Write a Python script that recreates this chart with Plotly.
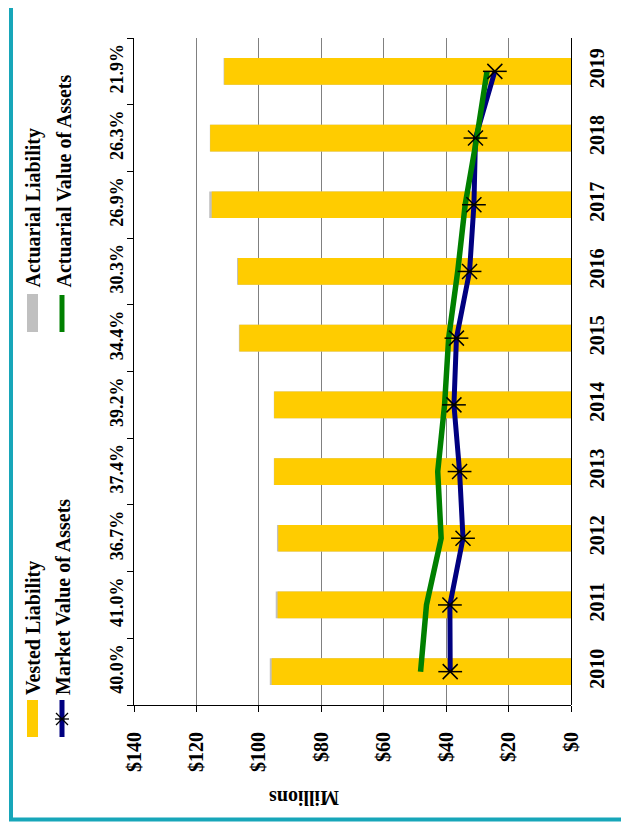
import plotly.graph_objects as go

# ---------------- data ----------------
years = ["2010", "2011", "2012", "2013", "2014", "2015", "2016", "2017", "2018", "2019"]
funded_pct = ["40.0%", "41.0%", "36.7%", "37.4%", "39.2%", "34.4%", "30.3%", "26.9%", "26.3%", "21.9%"]
actuarial_liability = [96.5, 94.6, 94.2, 95.2, 95.2, 106.4, 107.0, 115.9, 115.7, 111.3]
vested_liability = [95.9, 94.0, 93.8, 95.1, 95.1, 106.2, 106.7, 115.1, 115.6, 111.1]
market_value = [38.7, 38.8, 34.6, 35.7, 37.5, 36.7, 32.5, 31.1, 30.6, 24.4]
actuarial_value = [48.2, 46.3, 41.6, 42.7, 40.5, 39.2, 36.3, 33.9, 30.2, 26.9]
x_ticks = [0, 20, 40, 60, 80, 100, 120, 140]
x_tick_text = ["$0", "$20", "$40", "$60", "$80", "$100", "$120", "$140"]

# ---------------- styling ----------------
FONT = "Liberation Serif"
OFF = 8  # page body margin
W, H = 629 - OFF, 826 - OFF
# plot area in screen pixels: x 134..571, y 38..705
ML, MR, MT, MB = 134 - OFF, 629 - 571, 38 - OFF, 826 - 705
PW, PH = W - ML - MR, H - MT - MB

def px(x):
    return (x - OFF - ML) / PW

def py(y):
    return (H - MB - (y - OFF)) / PH

fig = go.Figure()

fig.add_trace(go.Bar(
    x=actuarial_liability, y=years, orientation="h", name="Actuarial Liability",
    marker=dict(color="#C0C0C0", line=dict(width=0)), width=0.4, showlegend=False))
fig.add_trace(go.Bar(
    x=vested_liability, y=years, orientation="h", name="Vested Liability",
    marker=dict(color="#FFCC00", line=dict(width=0)), width=0.4, showlegend=False))
fig.add_trace(go.Scatter(
    x=market_value, y=years, mode="lines", name="Market Value of Assets",
    line=dict(color="#000080", width=5), showlegend=False))
fig.add_trace(go.Scatter(
    x=actuarial_value, y=years, mode="lines", name="Actuarial Value of Assets",
    line=dict(color="#008000", width=5.5), showlegend=False))
fig.add_trace(go.Scatter(
    x=market_value, y=years, mode="markers", showlegend=False, hoverinfo="skip",
    marker=dict(symbol="x-thin-open", size=15, color="black", line=dict(color="black", width=1.5))))
fig.add_trace(go.Scatter(
    x=market_value, y=years, mode="markers", showlegend=False, hoverinfo="skip",
    marker=dict(symbol="line-ew-open", size=17, color="black", line=dict(color="black", width=1.5))))
# invisible trace that carries the year labels on the right-hand axis
fig.add_trace(go.Scatter(
    x=[None] * len(years), y=list(range(len(years))), yaxis="y2", mode="markers",
    showlegend=False, hoverinfo="skip", marker=dict(opacity=0)))

shapes = []
annotations = []

# legend swatches
shapes.append(dict(type="rect", xref="paper", yref="paper", x0=px(27), x1=px(38), y0=py(737), y1=py(700),
                   fillcolor="#FFCC00", line=dict(width=0)))
shapes.append(dict(type="rect", xref="paper", yref="paper", x0=px(27), x1=px(38), y0=py(332), y1=py(294),
                   fillcolor="#C0C0C0", line=dict(width=0)))
shapes.append(dict(type="line", xref="paper", yref="paper", x0=px(62), x1=px(62), y0=py(737), y1=py(700),
                   line=dict(color="#000080", width=5)))
shapes.append(dict(type="line", xref="paper", yref="paper", x0=px(62), x1=px(62), y0=py(332), y1=py(295),
                   line=dict(color="#008000", width=5)))
cx, cy, r = 62, 719, 6
for (x0, y0, x1, y1) in [(cx - r - 1, cy, cx + r + 1, cy), (cx - r, cy - r, cx + r, cy + r), (cx - r, cy + r, cx + r, cy - r)]:
    shapes.append(dict(type="line", xref="paper", yref="paper", x0=px(x0), x1=px(x1), y0=py(y0), y1=py(y1),
                       line=dict(color="black", width=1.3)))

# teal frame
shapes.append(dict(type="line", xref="paper", yref="paper", x0=px(11), x1=px(11), y0=py(8), y1=py(821),
                   line=dict(color="#17A6B9", width=4)))
shapes.append(dict(type="line", xref="paper", yref="paper", x0=px(9), x1=px(629), y0=py(819.5), y1=py(819.5),
                   line=dict(color="#17A6B9", width=4)))

def legend_text(text, x, ybottom):
    annotations.append(dict(text=text, xref="paper", yref="paper", x=px(x), y=py(ybottom),
                            xanchor="center", yanchor="bottom", textangle=-90, showarrow=False,
                            font=dict(family=FONT, size=20, color="black", weight="bold")))

legend_text("Vested Liability", 33, 697)
legend_text("Market Value of Assets", 63, 697)
legend_text("Actuarial Liability", 33, 290)
legend_text("Actuarial Value of Assets", 63, 290)

annotations.append(dict(text="Millions", xref="paper", yref="paper", x=px(304), y=py(798),
                        xanchor="center", yanchor="middle", textangle=180, showarrow=False,
                        font=dict(family=FONT, size=20, color="black", weight="bold")))

fig.update_layout(
    width=W, height=H,
    margin=dict(l=ML, r=MR, t=MT, b=MB, pad=0, autoexpand=False),
    paper_bgcolor="white", plot_bgcolor="white",
    barmode="overlay",
    font=dict(family=FONT, size=20, color="black", weight="bold"),
    showlegend=False,
    shapes=shapes,
    annotations=annotations,
    xaxis=dict(
        range=[140, 0], tickmode="array", tickvals=x_ticks, ticktext=x_tick_text,
        tickangle=-90, showgrid=True, gridcolor="#808080", gridwidth=1,
        zeroline=True, zerolinecolor="black", zerolinewidth=1,
        showline=True, linecolor="black", linewidth=1,
        ticks="outside", ticklen=6, tickcolor="black", ticklabelstandoff=12,
        tickfont=dict(family=FONT, size=20, color="black", weight="bold"),
    ),
    yaxis=dict(
        type="category", categoryorder="array", categoryarray=years, range=[-0.5, 9.5],
        tickmode="array", tickvals=years, ticktext=funded_pct, tickson="boundaries",
        tickangle=-90, showgrid=False, zeroline=False,
        showline=True, linecolor="black", linewidth=1,
        ticks="outside", ticklen=6, tickcolor="black", ticklabelstandoff=3,
        tickfont=dict(family=FONT, size=18, color="black", weight="bold"),
    ),
    yaxis2=dict(
        overlaying="y", side="right", range=[-0.5, 9.5], tickmode="array",
        tickvals=list(range(len(years))), ticktext=years, tickangle=-90,
        showgrid=False, zeroline=False, showline=False, ticks="", ticklabelstandoff=12,
        tickfont=dict(family=FONT, size=20, color="black", weight="bold"),
    ),
)

fig.write_html("out.html")
